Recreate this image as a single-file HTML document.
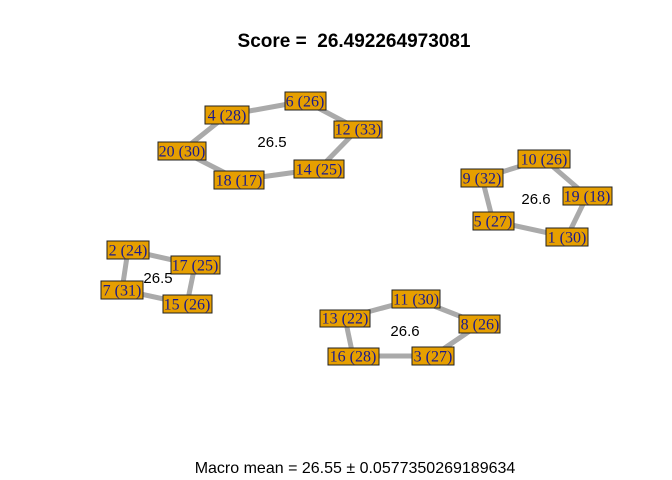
<!DOCTYPE html>
<html><head><style>body{margin:0;background:#fff}svg{display:block}</style></head>
<body>
<svg width="672" height="480" xmlns="http://www.w3.org/2000/svg">
<g stroke="#aaaaaa" stroke-width="5" fill="none">
<line x1="227" y1="115" x2="305" y2="101"/><line x1="305" y1="101" x2="358" y2="129"/>
<line x1="358" y1="129" x2="319" y2="169"/><line x1="319" y1="169" x2="239" y2="180"/>
<line x1="239" y1="180" x2="182" y2="151"/><line x1="182" y1="151" x2="227" y2="115"/>
<line x1="544" y1="159" x2="587" y2="196"/><line x1="587" y1="196" x2="567" y2="237"/>
<line x1="567" y1="237" x2="493" y2="221"/><line x1="493" y1="221" x2="482" y2="178"/>
<line x1="482" y1="178" x2="544" y2="159"/>
<line x1="128" y1="250" x2="195" y2="265"/><line x1="195" y1="265" x2="187" y2="304"/>
<line x1="187" y1="304" x2="122" y2="290"/><line x1="122" y1="290" x2="128" y2="250"/>
<line x1="416" y1="299" x2="480" y2="324"/><line x1="480" y1="324" x2="433" y2="356"/>
<line x1="433" y1="356" x2="353" y2="356"/><line x1="353" y1="356" x2="345" y2="318"/>
<line x1="345" y1="318" x2="416" y2="299"/>
</g>
<g fill="#E69F00" stroke="#222" stroke-width="1">
<rect x="205" y="106" width="44" height="18"/><rect x="285" y="92" width="41" height="18"/>
<rect x="334" y="121" width="48" height="17"/><rect x="294" y="160" width="50" height="18"/>
<rect x="214" y="171" width="50" height="18"/><rect x="158" y="142" width="48" height="18"/>
<rect x="518" y="150" width="52" height="18"/><rect x="461" y="169" width="42" height="18"/>
<rect x="563" y="187" width="49" height="18"/><rect x="473" y="212" width="41" height="18"/>
<rect x="546" y="228" width="42" height="18"/>
<rect x="107" y="241" width="42" height="18"/><rect x="171" y="256" width="49" height="18"/>
<rect x="101" y="281" width="42" height="18"/><rect x="163" y="295" width="49" height="18"/>
<rect x="392" y="290" width="48" height="18"/><rect x="320" y="310" width="50" height="17"/>
<rect x="459" y="315" width="41" height="18"/><rect x="328" y="348" width="51" height="17"/>
<rect x="412" y="347" width="42" height="18"/>
</g>
<g font-family="Liberation Serif, serif" font-size="16" fill="#1a1a8c" text-anchor="middle">
<text x="227" y="120.5">4 (28)</text><text x="305" y="106.5">6 (26)</text>
<text x="358" y="134.5">12 (33)</text><text x="319" y="174.5">14 (25)</text>
<text x="239" y="185.5">18 (17)</text><text x="182" y="156.5">20 (30)</text>
<text x="544" y="164.5">10 (26)</text><text x="482" y="183.5">9 (32)</text>
<text x="587" y="201.5">19 (18)</text><text x="493" y="226.5">5 (27)</text>
<text x="567" y="242.5">1 (30)</text>
<text x="128" y="255.5">2 (24)</text><text x="195" y="270.5">17 (25)</text>
<text x="122" y="295.5">7 (31)</text><text x="187" y="309.5">15 (26)</text>
<text x="416" y="304.5">11 (30)</text><text x="345" y="323.5">13 (22)</text>
<text x="480" y="329.5">8 (26)</text><text x="353" y="361.5">16 (28)</text>
<text x="433" y="361.5">3 (27)</text>
</g>
<g font-family="Liberation Sans, sans-serif" font-size="15" fill="#000" text-anchor="middle">
<text x="272" y="147">26.5</text><text x="536" y="204">26.6</text>
<text x="158" y="283">26.5</text><text x="405" y="336">26.6</text>
<text x="355" y="473" font-size="16">Macro mean = 26.55 ± 0.0577350269189634</text>
<text x="354" y="47" font-weight="bold" font-size="19" xml:space="preserve">Score =  26.492264973081</text>
</g>
</svg>
</body></html>
